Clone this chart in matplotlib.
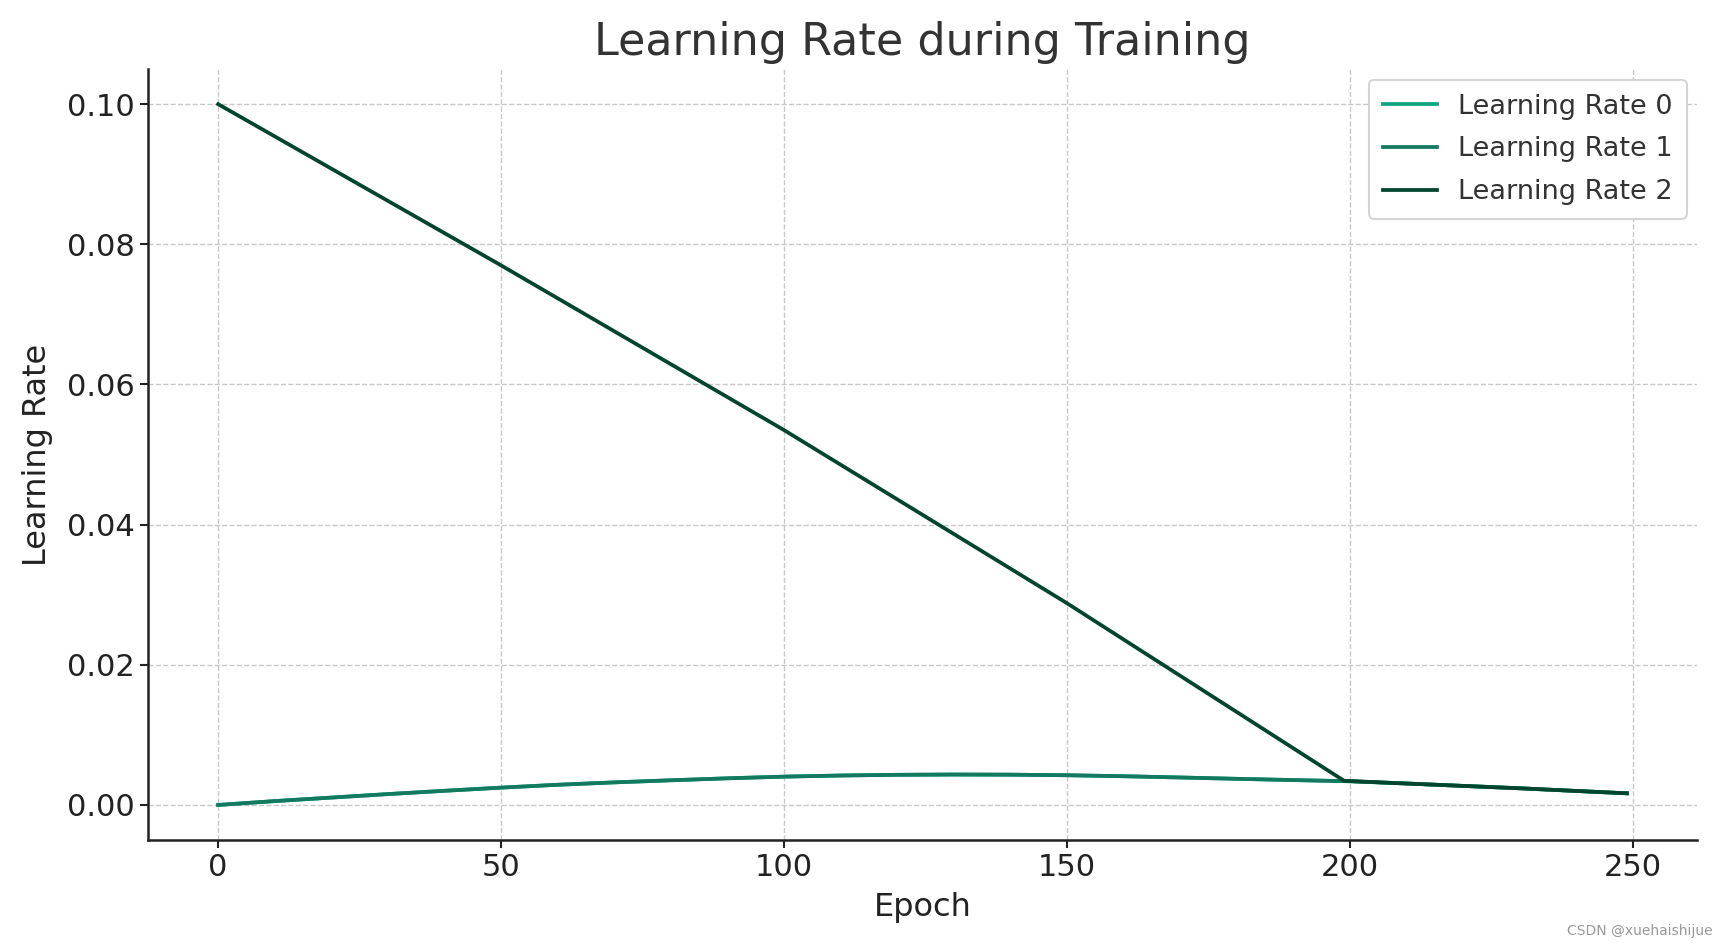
import matplotlib
matplotlib.use('Agg')
import matplotlib.pyplot as plt

# lower schedule (learning rate 0 and 1 are identical)
epochs = [0, 10, 20, 30, 40, 50, 60, 70, 80, 90, 100, 110, 120, 130, 140,
          150, 160, 170, 180, 190, 200, 210, 220, 230, 240, 249]
lr_low = [0.0, 0.00055, 0.00105, 0.00155, 0.00202, 0.00247, 0.00288, 0.00322,
          0.00352, 0.00380, 0.00404, 0.00420, 0.00430, 0.00434, 0.00432,
          0.00424, 0.00410, 0.00392, 0.00373, 0.00355, 0.00338, 0.00306,
          0.00272, 0.00238, 0.00200, 0.00166]

# learning rate 2: decays to epoch 199, then the same tail as the others
epochs_2 = [0, 50, 100, 150, 199] + epochs[21:]
lr_2 = [0.1000, 0.0770, 0.0535, 0.0288, 0.00345] + lr_low[21:]

labels = ['Learning Rate 0', 'Learning Rate 1', 'Learning Rate 2']
colors = ['#10a37f', '#137a5f', '#02452f']

fig, ax = plt.subplots(figsize=(17.18, 9.47), dpi=100)
fig.subplots_adjust(left=0.086, right=0.988, top=0.927, bottom=0.113)

ax.plot(epochs, lr_low, color=colors[0], lw=2.7, label=labels[0])
ax.plot(epochs, lr_low, color=colors[1], lw=2.7, label=labels[1])
ax.plot(epochs_2, lr_2, color=colors[2], lw=2.7, label=labels[2])

ax.set_title('Learning Rate during Training', fontsize=32, color='#333333', pad=10)
ax.set_xlabel('Epoch', fontsize=23, color='#222222', labelpad=7)
ax.set_ylabel('Learning Rate', fontsize=23, color='#222222', labelpad=10)
ax.tick_params(labelsize=22, colors='#222222', length=6, width=1.5)
ax.set_yticks([0.0, 0.02, 0.04, 0.06, 0.08, 0.10])

ax.grid(True, linestyle='--', color='#c8c8c8', lw=1)
for s in ['top', 'right']:
    ax.spines[s].set_visible(False)
for s in ['left', 'bottom']:
    ax.spines[s].set_linewidth(1.8)
    ax.spines[s].set_color('#222222')

leg = ax.legend(loc='upper right', fontsize=19.5, frameon=True, fancybox=True,
                edgecolor='#d5d5d5', framealpha=1, borderpad=0.5,
                labelspacing=0.62, borderaxespad=0.4)
for t in leg.get_texts():
    t.set_color('#333333')
leg.get_frame().set_linewidth(1.5)

fig.text(0.997, 0.01, 'CSDN @xuehaishijue', ha='right', va='bottom',
         fontsize=10, color='#999999')

plt.savefig('out.png', dpi=100)
